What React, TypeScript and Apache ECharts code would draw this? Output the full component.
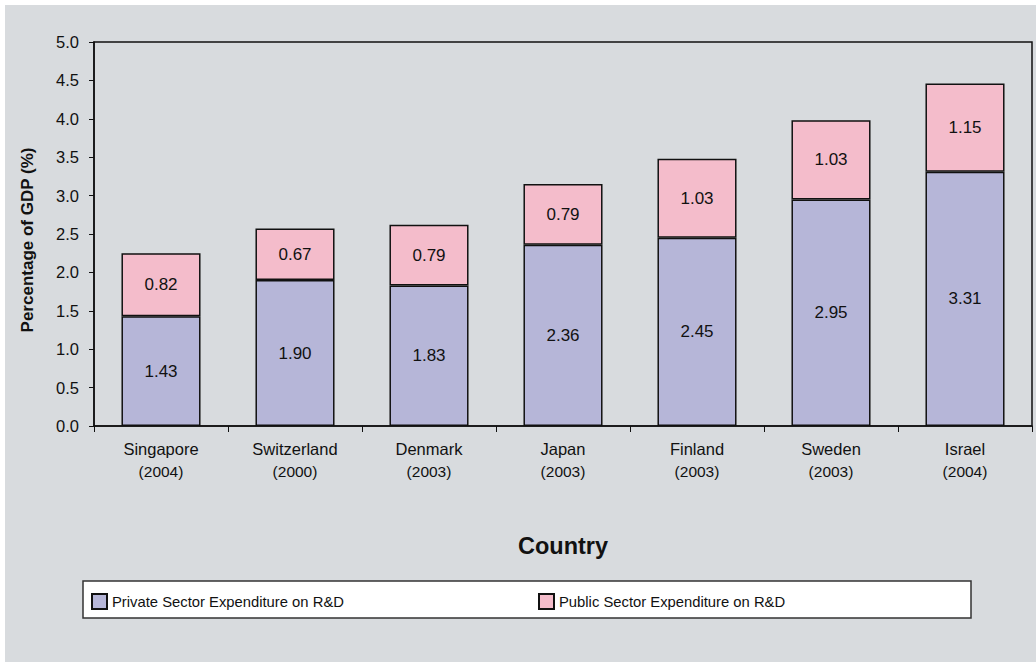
import React, { useEffect, useRef } from "react";
import * as echarts from "echarts";

const countries = ["Singapore", "Switzerland", "Denmark", "Japan", "Finland", "Sweden", "Israel"];
const years = ["2004", "2000", "2003", "2003", "2003", "2003", "2004"];
const privateValues = [1.43, 1.9, 1.83, 2.36, 2.45, 2.95, 3.31];
const publicValues = [0.82, 0.67, 0.79, 0.79, 1.03, 1.03, 1.15];
const seriesNames = [
  "Private Sector Expenditure on R&D",
  "Public Sector Expenditure on R&D",
];

const categories = countries.map((c, i) => c + "\n(" + years[i] + ")");

const FONT = "'Liberation Sans', Arial, Helvetica, sans-serif";

export default function App() {
  const ref = useRef<HTMLDivElement>(null);
  useEffect(() => {
    if (!ref.current) return;
    const chart = echarts.init(ref.current, undefined, { renderer: "svg" });
    const label = {
      show: true,
      position: "inside",
      fontSize: 17,
      color: "#111",
      fontFamily: FONT,
      formatter: (p: any) => Number(p.value).toFixed(2),
    };
    chart.setOption({
      animation: false,
      textStyle: { fontFamily: FONT },
      graphic: [
        {
          type: "rect",
          z: -10,
          shape: { x: 5, y: 5, width: 1031, height: 657 },
          style: { fill: "#d8dbde" },
        },
        {
          type: "rect",
          z: -5,
          shape: { x: 83, y: 581, width: 888, height: 37 },
          style: { fill: "#ffffff", stroke: "#333", lineWidth: 1.5 },
        },
        {
          type: "text",
          x: 27,
          y: 240,
          rotation: Math.PI / 2,
          style: {
            text: "Percentage of GDP (%)",
            fontSize: 17,
            fontWeight: "bold",
            fill: "#111",
            fontFamily: FONT,
            align: "center",
            verticalAlign: "middle",
          },
        },
      ],
      grid: {
        left: 94,
        top: 42,
        right: 4,
        bottom: 236,
        show: true,
        borderColor: "#111",
        borderWidth: 1.5,
        backgroundColor: "transparent",
      },
      legend: [
        {
          data: [seriesNames[0]],
          left: 91,
          top: 593,
          padding: 0,
          itemWidth: 15,
          itemHeight: 15,
          icon: "rect",
          textStyle: { fontSize: 14.8, color: "#111", fontFamily: FONT },
        },
        {
          data: [seriesNames[1]],
          left: 538,
          top: 593,
          padding: 0,
          itemWidth: 15,
          itemHeight: 15,
          icon: "rect",
          textStyle: { fontSize: 14.8, color: "#111", fontFamily: FONT },
        },
      ],
      xAxis: {
        type: "category",
        data: categories,
        name: "Country",
        nameLocation: "middle",
        nameGap: 108,
        nameTextStyle: { fontSize: 23.5, fontWeight: "bold", color: "#111", fontFamily: FONT },
        axisLine: { lineStyle: { color: "#111", width: 1.5 } },
        axisTick: { show: true, length: 6, lineStyle: { color: "#111" } },
        axisLabel: {
          color: "#111",
          margin: 12,
          fontFamily: FONT,
          formatter: (v: string) => {
            const [name, yr] = v.split("\n");
            return "{n|" + name + "}\n{y|" + yr + "}";
          },
          rich: {
            n: { fontSize: 16.5, lineHeight: 22, color: "#111", fontFamily: FONT },
            y: { fontSize: 15.5, lineHeight: 22, color: "#111", fontFamily: FONT },
          },
        },
      },
      yAxis: {
        type: "value",
        min: 0,
        max: 5,
        interval: 0.5,
        axisLine: { show: true, lineStyle: { color: "#111", width: 1.5 } },
        axisTick: { show: true, length: 5, lineStyle: { color: "#111" } },
        splitLine: { show: false },
        axisLabel: {
          fontSize: 16.5,
          color: "#111",
          margin: 15,
          fontFamily: FONT,
          formatter: (v: number) => v.toFixed(1),
        },
      },
      series: [
        {
          name: seriesNames[0],
          type: "bar",
          stack: "total",
          barWidth: "59%",
          data: privateValues,
          itemStyle: { color: "#b6b6d8", borderColor: "#111", borderWidth: 1.5 },
          label,
        },
        {
          name: seriesNames[1],
          type: "bar",
          stack: "total",
          barWidth: "59%",
          data: publicValues,
          itemStyle: { color: "#f4bccb", borderColor: "#111", borderWidth: 1.5 },
          label,
        },
      ],
    });
    return () => chart.dispose();
  }, []);
  return (
    <div
      ref={ref}
      style={{ position: "fixed", left: 0, top: 0, width: 1036, height: 662, background: "#ffffff" }}
    />
  );
}
